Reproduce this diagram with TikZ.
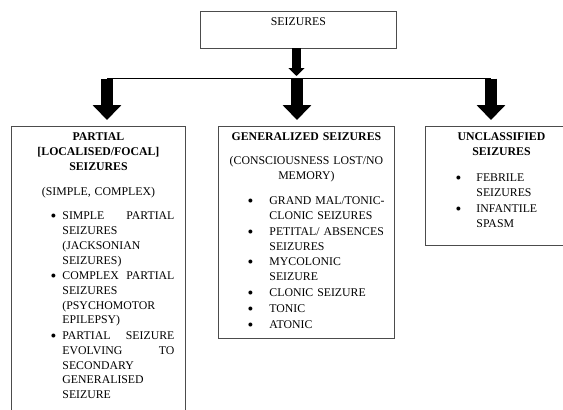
\documentclass[tikz,border=0pt]{standalone}
\usepackage{fontspec}
\usepackage{graphicx}
\setmainfont{Liberation Serif}
\usetikzlibrary{
        arrows.meta,
        positioning
    }
\newcommand{\seizgap}{1.1pt}
\newcommand{\seizdot}{\raisebox{-2pt}{\scalebox{1.4}{\textbullet}}}
\newcommand{\seizitem}[4]{\par\vspace{\seizgap}{\let\\\par\leftskip=#2\rightskip=\dimexpr\linewidth-#2-#3\relax\parfillskip=0pt plus 1fil\noindent\llap{\makebox[0pt]{\seizdot}\hspace*{\dimexpr#2-#1\relax}}#4\par}}
\tikzset{seizbox/.style={draw=black!70,line width=0.9pt,inner sep=0pt,align=center,anchor=north west,text height=14.5pt,font=\fontsize{11.8}{14.7}\selectfont}}
\tikzset{bigarrow/.style={line width=11.5pt,-{Triangle[width=28pt,length=15pt]},shorten >=6pt}}
\tikzset{smallarrow/.style={line width=8.5pt,-{Triangle[width=16pt,length=8pt]},shorten >=2.5pt}}

\begin{document}
\begin{tikzpicture}[x=1pt,y=-1pt]
                \useasboundingbox (0,0) rectangle (563,410);
                \node[seizbox,text width=196pt,text depth=22pt] (seizures) at (200,11) {SEIZURES};
                \node[seizbox,text width=174pt,text depth=300pt] (partial) at (11,126) {%
                    \textbf{PARTIAL}\\ \textbf{[LOCALISED/FOCAL]}\\ \textbf{SEIZURES}\par
                    \vspace{10.4pt}(SIMPLE, COMPLEX)\par
                    \vspace{8.7pt}%
                    \seizitem{42pt}{51pt}{112pt}{SIMPLE\hfill PARTIAL\\ SEIZURES\\ (JACKSONIAN\\ SEIZURES)}%
                    \seizitem{42pt}{51pt}{112pt}{COMPLEX\hfill PARTIAL\\ SEIZURES\\ (PSYCHOMOTOR\\ EPILEPSY)}%
                    \seizitem{42pt}{51pt}{112pt}{PARTIAL\hfill SEIZURE\\ EVOLVING\hfill TO\\ SECONDARY\\ GENERALISED\\ SEIZURE}};
                \node[seizbox,text width=176pt,text depth=197.5pt] (generalized) at (218,126) {%
                    \textbf{GENERALIZED SEIZURES}\par
                    \vspace{9.3pt}(CONSCIOUSNESS LOST/NO\\ MEMORY)\par
                    \vspace{9.5pt}%
                    \seizitem{32pt}{51pt}{120pt}{GRAND MAL/TONIC-\\ CLONIC SEIZURES}%
                    \seizitem{32pt}{51pt}{120pt}{PETITAL/ ABSENCES\\ SEIZURES}%
                    \seizitem{32pt}{51pt}{120pt}{MYCOLONIC\\ SEIZURE}%
                    \seizitem{32pt}{51pt}{120pt}{CLONIC SEIZURE}%
                    \seizitem{32pt}{51pt}{120pt}{TONIC}%
                    \seizitem{32pt}{51pt}{120pt}{ATONIC}};
                \node[seizbox,text width=152pt,text depth=104.5pt] (unclassified) at (425,126) {%
                    \textbf{UNCLASSIFIED}\\ \textbf{SEIZURES}\par
                    \vspace{10.5pt}%
                    \seizitem{33pt}{51pt}{95pt}{FEBRILE\\ SEIZURES}%
                    \seizitem{33pt}{51pt}{95pt}{INFANTILE\\ SPASM}};
                % bus line under the top box
                \coordinate (bus) at (296.5,78.5);
                \coordinate (bleft) at (107,78.5);
                \coordinate (bmid) at (297,78.5);
                \coordinate (bright) at (491,78.5);
                \draw[line width=0.9pt] (bleft) -- (bright);
                \draw[smallarrow] (seizures.south -| bus) -- (bus);
                \draw[bigarrow] (bleft) -- (bleft |- partial.north);
                \draw[bigarrow] (bmid) -- (bmid |- generalized.north);
                \draw[bigarrow] (bright) -- (bright |- unclassified.north);
            \end{tikzpicture}
\end{document}
